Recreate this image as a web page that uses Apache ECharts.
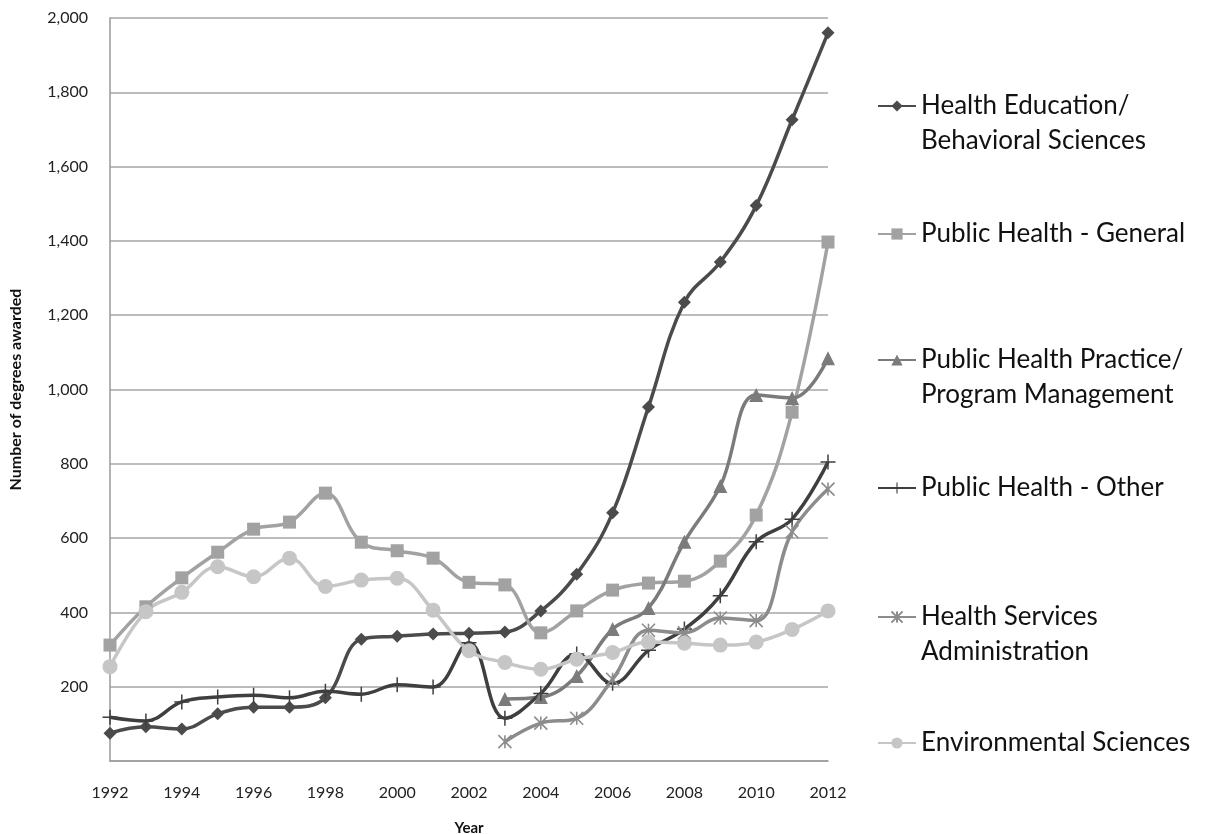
<!DOCTYPE html>
<html>
<head>
<meta charset="utf-8">
<script src="https://cdn.jsdelivr.net/npm/echarts@6/dist/echarts.min.js"></script>
<style>
html,body{margin:0;padding:0;background:#fff;}
#chart{width:1205px;height:834px;}
</style>
</head>
<body>
<div id="chart"></div>
<script>
var years = ['1992','1993','1994','1995','1996','1997','1998','1999','2000','2001','2002','2003','2004','2005','2006','2007','2008','2009','2010','2011','2012'];
var seriesNames = ['Health Education/ Behavioral Sciences','Public Health - General','Public Health Practice/ Program Management','Public Health - Other','Health Services Administration','Environmental Sciences'];
var legendLabels = ['Health Education/\nBehavioral Sciences','Public Health - General','Public Health Practice/\nProgram Management','Public Health - Other','Health Services\nAdministration','Environmental Sciences'];
var healthEducation = [75,92,86,127,145,145,170,328,336,342,344,347,404,503,668,953,1235,1343,1495,1726,1960];
var publicHealthGeneral = [312,415,493,562,624,643,721,589,566,546,481,474,345,404,460,479,484,538,662,939,1397];
var publicHealthPractice = [null,null,null,null,null,null,null,null,null,null,null,167,172,229,355,412,590,740,985,977,1084];
var publicHealthOther = [118,108,159,172,177,170,188,180,205,199,318,115,182,288,209,298,355,445,590,651,805];
var healthServices = [null,null,null,null,null,null,null,null,null,null,null,52,102,115,220,352,345,385,378,617,732];
var environmental = [254,402,454,523,496,546,470,487,492,406,297,265,247,274,292,320,317,312,320,354,404];
var yTicks = [0,200,400,600,800,1000,1200,1400,1600,1800,2000];

var dataSets = [healthEducation, publicHealthGeneral, publicHealthPractice, publicHealthOther, healthServices, environmental];
var colors = ['#4b4b4b','#a2a2a2','#7b7b7b','#3f3f3f','#8c8c8c','#c6c6c6'];
var symbols = [
  'diamond',
  'rect',
  'triangle',
  'path://M9,0 H11 V9 H20 V11 H11 V20 H9 V11 H0 V9 H9 Z',
  'path://M0,0 L20,20 M20,0 L0,20 M10,0 L10,20',
  'circle'
];
var symbolSizes = [13, 13, 14, 15, 13, 15];
var legendCenters = [106, 234, 360, 488, 617, 743];

var FONT = 'Lato';
var LH = 35;

var series = dataSets.map(function(d, i){
  var s = {
    name: seriesNames[i],
    type: 'line',
    data: d,
    smooth: 0.4,
    connectNulls: false,
    symbol: symbols[i],
    symbolSize: symbolSizes[i],
    showAllSymbol: true,
    lineStyle: {color: colors[i], width: 3.5},
    itemStyle: {color: colors[i]},
    z: 2
  };
  if (i === 4) {
    s.itemStyle = {color: 'rgba(0,0,0,0)', borderColor: colors[i], borderWidth: 1.6};
  }
  return s;
});

var legends = seriesNames.map(function(n, i){
  var multi = legendLabels[i].indexOf('\n') >= 0;
  var top = multi ? legendCenters[i] - 1.5 * LH : legendCenters[i] - 0.5 * LH;
  return {
    orient: 'vertical',
    left: 877,
    top: top,
    padding: 0,
    itemWidth: 38,
    itemHeight: 14,
    selectedMode: false,
    data: [n],
    formatter: function(){ return multi ? '\n' + legendLabels[i] : legendLabels[i]; },
    textStyle: {fontFamily: FONT, fontSize: 26, color: '#111', lineHeight: LH}
  };
});

var chart = echarts.init(document.getElementById('chart'));
chart.setOption({
  animation: false,
  backgroundColor: '#fff',
  grid: {left: 110, right: 377, top: 18, bottom: 73, containLabel: false, outerBoundsMode: 'none'},
  legend: legends,
  xAxis: {
    type: 'category',
    data: years,
    boundaryGap: false,
    name: 'Year',
    nameLocation: 'middle',
    nameGap: 60,
    nameTextStyle: {fontFamily: FONT, fontSize: 15, fontWeight: 'bold', color: '#111'},
    axisLine: {lineStyle: {color: '#9a9a9a', width: 1.5}},
    axisTick: {show: false},
    axisLabel: {interval: 1, margin: 24, fontFamily: FONT, fontSize: 16, color: '#222'},
    splitLine: {show: false}
  },
  yAxis: {
    type: 'value',
    min: yTicks[0],
    max: yTicks[yTicks.length - 1],
    interval: 200,
    name: 'Number of degrees awarded',
    nameLocation: 'middle',
    nameRotate: 90,
    nameGap: 86,
    nameTextStyle: {fontFamily: FONT, fontSize: 16, fontWeight: 'bold', color: '#111'},
    axisLine: {show: true, lineStyle: {color: '#9a9a9a', width: 1.5}},
    axisTick: {show: false},
    axisLabel: {
      margin: 22, fontFamily: FONT, fontSize: 16, color: '#222',
      formatter: function(v){ return v === 0 ? '' : v.toLocaleString('en-US'); }
    },
    splitLine: {lineStyle: {color: '#a6a6a6', width: 1.5}}
  },
  series: series
});
</script>
</body>
</html>
